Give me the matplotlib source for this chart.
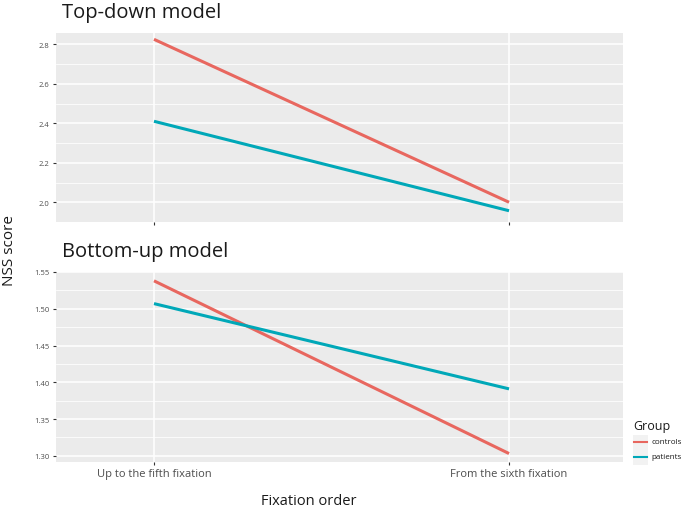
import numpy as np
import matplotlib
matplotlib.use("Agg")
import matplotlib.pyplot as plt
from matplotlib.lines import Line2D
from matplotlib.patches import Rectangle

plt.rcParams['font.family'] = ['Open Sans', 'DejaVu Sans']

# data
fixation_order = ["Up to the fifth fixation", "From the sixth fixation"]
groups = ["controls", "patients"]
topdown_controls = [2.825, 2.000]
topdown_patients = [2.410, 1.957]
bottomup_controls = [1.538, 1.303]
bottomup_patients = [1.507, 1.391]

colors = {"controls": "#E8675F", "patients": "#00A8B8"}
PANEL = "#EBEBEB"

fig = plt.figure(figsize=(6.83, 5.10), dpi=100)
W, H = 683, 510


def fx(x):
    return x / W


def fy(y):
    return 1 - y / H


def box(x0, y0, x1, y1):
    return [fx(x0), fy(y1), (x1 - x0) / W, (y1 - y0) / H]


ax1 = fig.add_axes(box(56, 34, 623, 223))
ax2 = fig.add_axes(box(56, 273, 623, 463))

xs = np.arange(1, len(fixation_order) + 1)


def style(ax, ylim, majors, minors, show_xlabels):
    ax.set_facecolor(PANEL)
    for s in ax.spines.values():
        s.set_visible(False)
    ax.set_xlim(1 - 0.276, 2 + 0.321)
    ax.set_ylim(*ylim)
    ax.set_yticks(majors)
    ax.set_yticks(minors, minor=True)
    ax.set_xticks(xs)
    ax.grid(True, which="major", color="white", lw=1.1)
    ax.grid(True, which="minor", axis="y", color="white", lw=0.55)
    ax.set_axisbelow(True)
    ax.tick_params(which="major", length=2.5, width=0.8, color="#333333",
                   labelsize=5.5, labelcolor="#4D4D4D", pad=2)
    ax.tick_params(which="minor", length=0)
    if show_xlabels:
        ax.set_xticklabels(fixation_order, fontsize=8, color="#4D4D4D")
    else:
        ax.set_xticklabels([])


ax1.plot(xs, topdown_controls, color=colors["controls"], lw=2.2, solid_capstyle="butt")
ax1.plot(xs, topdown_patients, color=colors["patients"], lw=2.2, solid_capstyle="butt")
style(ax1, (1.931, 2.857), [2.0, 2.2, 2.4, 2.6, 2.8],
      [1.9, 2.1, 2.3, 2.5, 2.7], False)
ax1.yaxis.set_major_formatter(lambda v, _: f"{v:.1f}")

ax2.plot(xs, bottomup_controls, color=colors["controls"], lw=2.2, solid_capstyle="butt")
ax2.plot(xs, bottomup_patients, color=colors["patients"], lw=2.2, solid_capstyle="butt")
style(ax2, (1.2915, 1.5498), [1.30, 1.35, 1.40, 1.45, 1.50, 1.55],
      [1.325, 1.375, 1.425, 1.475, 1.525], True)
ax2.yaxis.set_major_formatter(lambda v, _: f"{v:.2f}")

fig.text(fx(62), fy(13), "Top-down model", fontsize=14.5, color="#1A1A1A",
         ha="left", va="center")
fig.text(fx(62), fy(252), "Bottom-up model", fontsize=14.5, color="#1A1A1A",
         ha="left", va="center")
fig.text(fx(10), fy(250), "NSS score", fontsize=11, rotation=90,
         ha="center", va="center", color="#1A1A1A")
fig.text(fx(309), fy(502), "Fixation order", fontsize=10.5,
         ha="center", va="center", color="#1A1A1A")

# legend, laid out by hand to fit the narrow right margin
fig.text(fx(633), fy(427), "Group", fontsize=9, color="#1A1A1A",
         ha="left", va="center")
fig.add_artist(Rectangle((fx(633), fy(466)), 15 / W, 30 / H,
                         transform=fig.transFigure, color="#F2F2F2", lw=0))
for i, g in enumerate(groups):
    yy = 443 + i * 15
    fig.add_artist(Line2D([fx(634), fx(647)], [fy(yy), fy(yy)],
                          transform=fig.transFigure, color=colors[g], lw=1.5))
    fig.text(fx(651), fy(yy), g, fontsize=5.8, color="#1A1A1A",
             ha="left", va="center")

fig.savefig("out.png", dpi=100)
